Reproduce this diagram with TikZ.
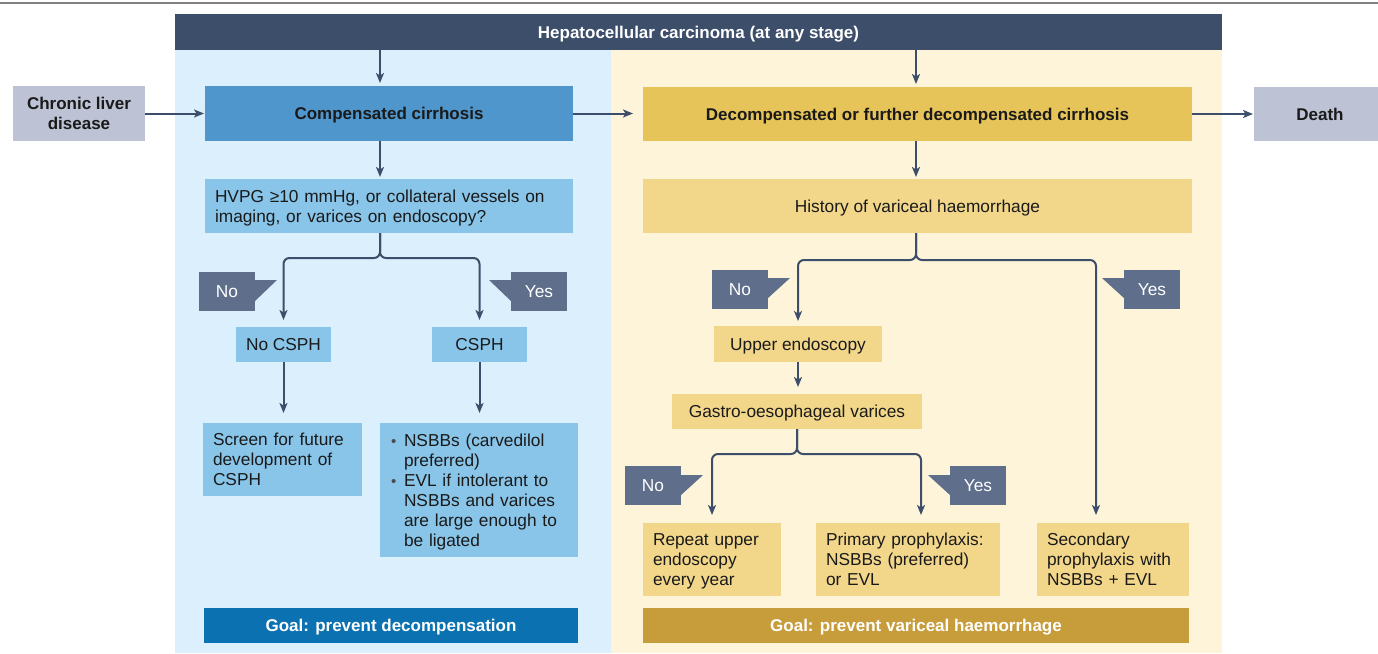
\documentclass[tikz,border=0pt]{standalone}
\usepackage{fontspec}
\setmainfont{Liberation Sans}
\usetikzlibrary{arrows.meta,calc}
\definecolor{navy}{HTML}{3D4E6B}
\definecolor{callcol}{HTML}{5E6E8B}
\definecolor{panelblue}{HTML}{DBEFFC}
\definecolor{panelyel}{HTML}{FEF4D9}
\definecolor{greybox}{HTML}{BDC2D5}
\definecolor{midblue}{HTML}{4E96CC}
\definecolor{lightblue}{HTML}{89C4E9}
\definecolor{gold}{HTML}{E6C459}
\definecolor{lightgold}{HTML}{F2D78B}
\definecolor{goalblue}{HTML}{0B71B1}
\definecolor{goalgold}{HTML}{C79C3A}
\definecolor{txt}{HTML}{1A1A1A}
\definecolor{bulgray}{HTML}{4A4A4A}
\definecolor{rulecol}{HTML}{808080}
\newcommand\bul{\makebox[13pt][l]{\raisebox{-0.3pt}{\fontsize{15}{15}\selectfont\color{bulgray}•}}}
\newcommand\ind{\hspace*{13pt}}
\begin{document}
\begin{tikzpicture}[x=1pt,y=-1pt,
  every node/.style={inner sep=0pt, outer sep=0pt, font=\fontsize{17.3}{20}\selectfont, text=txt},
  one/.style={text height=12.4pt, text depth=0pt},
  two/.style={text height=12.6pt, text depth=20pt},
  three/.style={text height=12.6pt, text depth=40pt},
  six/.style={text height=12.6pt, text depth=100pt},
  box/.style={anchor=north west, align=center},
  lbox/.style={anchor=north west, align=left, inner xsep=10pt},
  bold/.style={font=\fontsize{17}{20}\selectfont\bfseries},
  arr/.style={draw=navy, line width=2pt, -{Stealth[length=10pt,width=8pt,inset=2.5pt]}},
  callout/.style={fill=callcol, text=white, minimum width=56pt, minimum height=39pt, anchor=north west, one},
  flag/.style={fill=callcol}
]
\useasboundingbox (0,0) rectangle (1378,653);
% top rule
\draw[rulecol, line width=1.5pt] (0,3) -- (1378,3);
% panels
\fill[panelblue] (175,50) rectangle (611,653);
\fill[panelyel] (611,50) rectangle (1222,653);

% header
\node[box, one, fill=navy, minimum width=1047pt, minimum height=36pt, text=white, bold] (hdr) at (175,14) {Hepatocellular carcinoma (at any stage)};

% main row
\node[box, text depth=0pt, fill=greybox, minimum width=132pt, minimum height=55pt, bold] (cld) at (13,86) {Chronic liver\\disease};
\node[box, one, fill=midblue, minimum width=368pt, minimum height=55pt, bold] (comp) at (205,86) {Compensated cirrhosis};
\node[box, one, fill=gold, minimum width=549pt, minimum height=54pt, bold] (decomp) at (643,87) {Decompensated or further decompensated cirrhosis};
\node[box, one, fill=greybox, minimum width=132pt, minimum height=54pt, bold] (death) at (1254,87) {Death};

\coordinate (cL) at (380,0);
\coordinate (cR) at (916,0);
\draw[arr, shorten >=3pt] (cL |- hdr.south) -- (cL |- comp.north);
\draw[arr, shorten >=3pt] (cR |- hdr.south) -- (cR |- decomp.north);
\draw[arr, shorten >=1pt] (cld.east) -- (comp.west);
\draw[arr, shorten >=10pt] (comp.east) -- (comp.east -| decomp.west);
\draw[arr, shorten >=1pt] (decomp.east) -- (decomp.east -| death.west);

% left panel
\node[lbox, two, fill=lightblue, text width=348pt, minimum height=54pt] (hvpg) at (205,179) {HVPG ≥10 mmHg, or collateral vessels on\\imaging, or varices on endoscopy?};
\draw[arr, shorten >=2pt] (cL |- comp.south) -- (cL |- hvpg.north);

\node[box, one, fill=lightblue, minimum width=95pt, minimum height=35pt] (nocsph) at (236,327) {No CSPH};
\node[box, one, fill=lightblue, minimum width=95pt, minimum height=35pt] (csph) at (432,327) {CSPH};
\draw[arr, rounded corners=6pt, shorten >=7pt] (cL |- hvpg.south) -- ++(0,25) -| (nocsph.north);
\draw[arr, rounded corners=6pt, shorten >=7pt] (cL |- hvpg.south) -- ++(0,25) -| (csph.north);

\node[callout] (no1) at (199,272) {No};
\fill[flag] ($(no1.north east)+(-1,8)$) -- ($(no1.north east)+(22,8)$) -- ($(no1.north east)+(-1,30)$) -- cycle;
\node[callout] (yes1) at (511,272) {Yes};
\fill[flag] ($(yes1.north west)+(1,8)$) -- ($(yes1.north west)+(-22,8)$) -- ($(yes1.north west)+(1,30)$) -- cycle;

\node[lbox, three, fill=lightblue, text width=139pt, minimum height=73pt] (screen) at (203,423) {Screen for future\\development of\\CSPH};
\node[lbox, six, inner xsep=11pt, fill=lightblue, text width=176pt, minimum height=134pt] (nsbb) at (380,423) {\bul NSBBs (carvedilol\\\ind preferred)\\\bul EVL if intolerant to\\\ind NSBBs and varices\\\ind are large enough to\\\ind be ligated};
\draw[arr, shorten >=10pt] (nocsph.south) -- (nocsph.south |- screen.north);
\draw[arr, shorten >=10pt] (csph.south) -- (csph.south |- nsbb.north);

\node[box, one, fill=goalblue, minimum width=374pt, minimum height=35pt, text=white, bold] (goalL) at (204,608) {Goal: prevent decompensation};

% right panel
\node[box, one, fill=lightgold, minimum width=549pt, minimum height=54pt] (hist) at (643,179) {History of variceal haemorrhage};
\draw[arr, shorten >=2pt] (cR |- decomp.south) -- (cR |- hist.north);

\node[box, one, fill=lightgold, minimum width=168pt, minimum height=36pt] (upper) at (714,326) {Upper endoscopy};
\node[box, one, fill=lightgold, minimum width=250pt, minimum height=35pt] (gastro) at (672,394) {Gastro-oesophageal varices};
\draw[arr, shorten >=7pt] (upper.south) -- (upper.south |- gastro.north);

\node[lbox, three, fill=lightgold, text width=118pt, minimum height=73pt] (rep) at (643,523) {Repeat upper\\endoscopy\\every year};
\node[lbox, three, fill=lightgold, text width=164pt, minimum height=73pt] (prim) at (816,523) {Primary prophylaxis:\\NSBBs (preferred)\\or EVL};
\node[lbox, three, fill=lightgold, text width=132pt, minimum height=73pt] (second) at (1037,523) {Secondary\\prophylaxis with\\NSBBs + EVL};
\coordinate (sIn) at ($(second.north west)+(59,0)$);
\coordinate (pIn) at ($(prim.north west)+(105,0)$);

\draw[arr, rounded corners=6pt, shorten >=5pt] (cR |- hist.south) -- ++(0,27) -| (upper.north);
\draw[arr, rounded corners=6pt, shorten >=8pt] (cR |- hist.south) -- ++(0,27) -| (sIn);
\draw[arr, rounded corners=6pt, shorten >=8pt] (gastro.south) -- ++(0,25) -| (rep.north);
\draw[arr, rounded corners=6pt, shorten >=8pt] (gastro.south) -- ++(0,25) -| (pIn);

\node[callout] (no2) at (712,270) {No};
\fill[flag] ($(no2.north east)+(-1,8)$) -- ($(no2.north east)+(22,8)$) -- ($(no2.north east)+(-1,29)$) -- cycle;
\node[callout] (yes2) at (1124,270) {Yes};
\fill[flag] ($(yes2.north west)+(1,8)$) -- ($(yes2.north west)+(-22,8)$) -- ($(yes2.north west)+(1,29)$) -- cycle;
\node[callout] (no3) at (625,466) {No};
\fill[flag] ($(no3.north east)+(-1,9)$) -- ($(no3.north east)+(22,9)$) -- ($(no3.north east)+(-1,30)$) -- cycle;
\node[callout] (yes3) at (950,466) {Yes};
\fill[flag] ($(yes3.north west)+(1,9)$) -- ($(yes3.north west)+(-22,9)$) -- ($(yes3.north west)+(1,30)$) -- cycle;

\node[box, one, fill=goalgold, minimum width=546pt, minimum height=35pt, text=white, bold] (goalR) at (643,608) {Goal: prevent variceal haemorrhage};
\end{tikzpicture}
\end{document}
